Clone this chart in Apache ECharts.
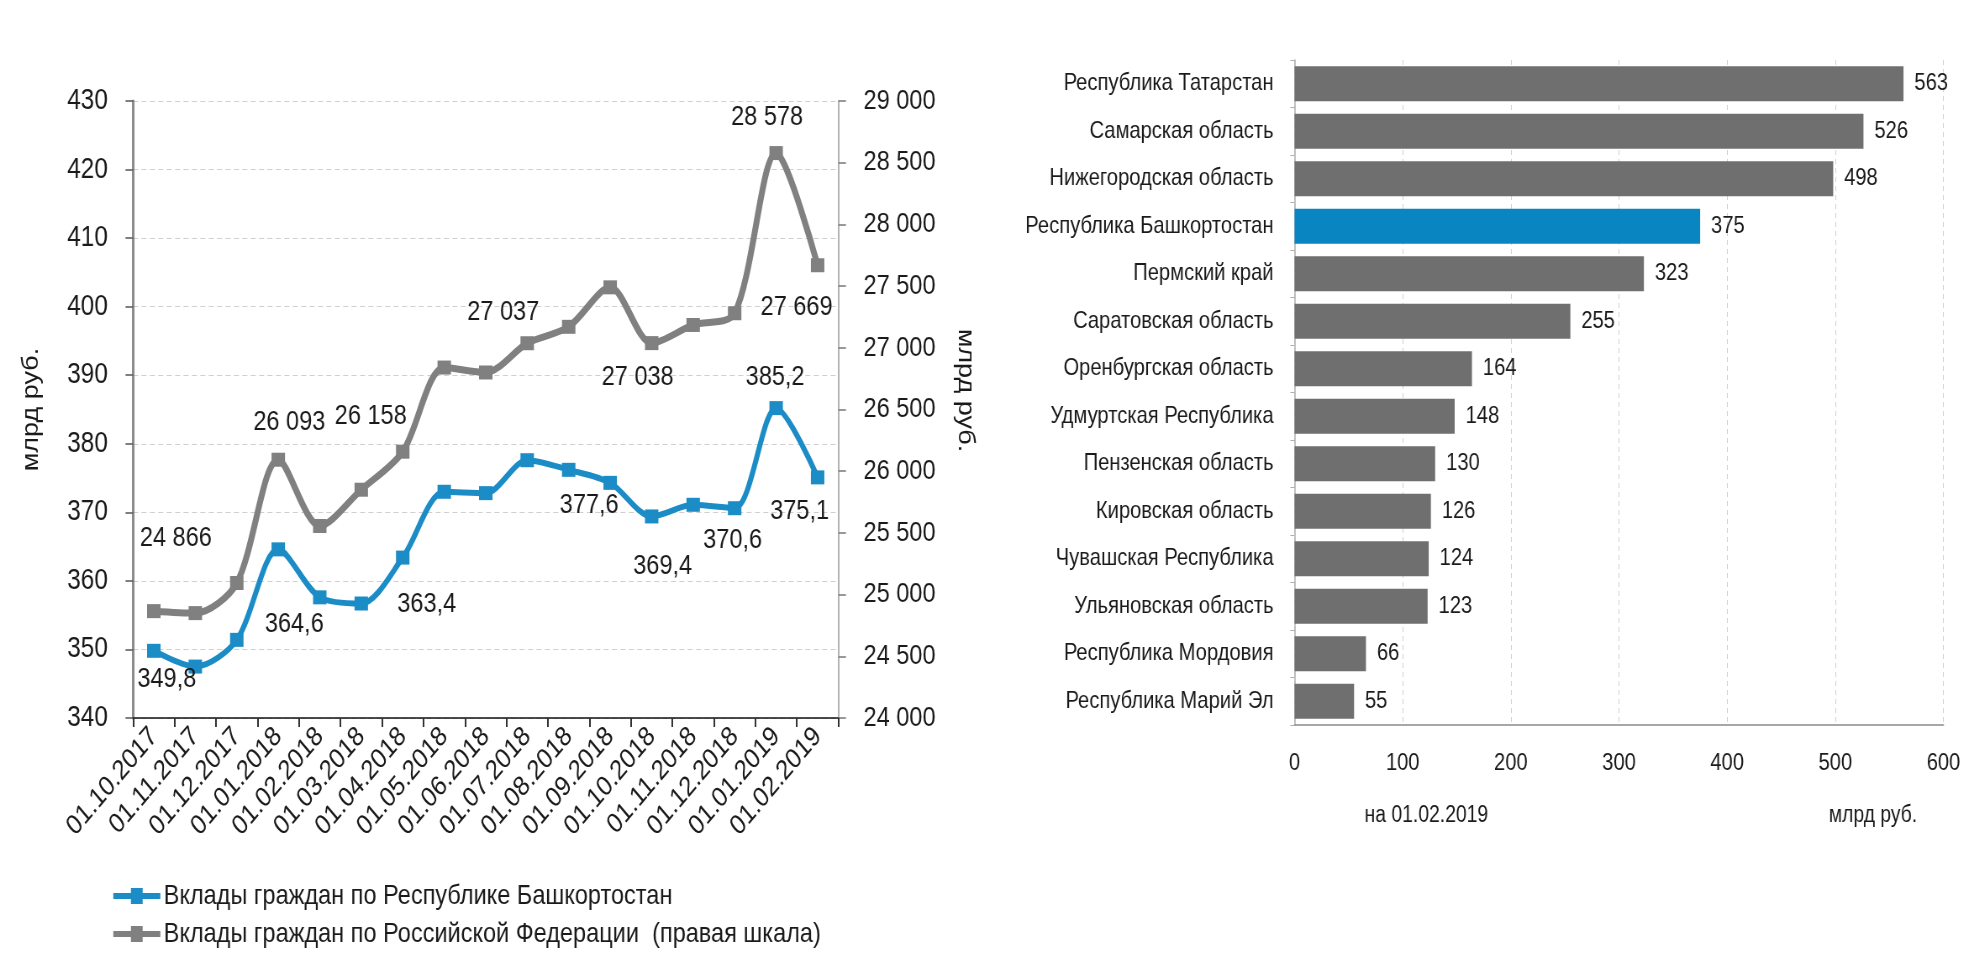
<!DOCTYPE html>
<html>
<head>
<meta charset="utf-8">
<script src="https://cdn.jsdelivr.net/npm/echarts@6/dist/echarts.min.js"></script>
<style>
html,body{margin:0;padding:0;background:#fff;overflow:hidden;}
#wrap{width:1962px;height:957px;overflow:hidden;position:relative;}
#c{position:absolute;left:0;top:0;height:957px;transform-origin:0 0;}
</style>
</head>
<body>
<div id="wrap"><div id="c"></div></div>
<script>
// ---- data: left chart ----
const dates = ['01.10.2017','01.11.2017','01.12.2017','01.01.2018','01.02.2018','01.03.2018','01.04.2018','01.05.2018','01.06.2018','01.07.2018','01.08.2018','01.09.2018','01.10.2018','01.11.2018','01.12.2018','01.01.2019','01.02.2019'];
const bashValues = [349.8, 347.5, 351.4, 364.6, 357.6, 356.7, 363.4, 373.0, 372.8, 377.6, 376.2, 374.3, 369.4, 371.1, 370.6, 385.2, 375.1];
const rfValues = [24866, 24850, 25094, 26093, 25556, 25850, 26158, 26840, 26800, 27037, 27170, 27490, 27038, 27185, 27280, 28578, 27669];
const bashName = 'Вклады граждан по Республике Башкортостан';
const rfName = 'Вклады граждан по Российской Федерации  (правая шкала)';
const leftAxisName = 'млрд руб.';
const rightAxisName = 'млрд руб.';

// ---- data: right chart ----
const regions = ['Республика Татарстан','Самарская область','Нижегородская область','Республика Башкортостан','Пермский край','Саратовская область','Оренбургская область','Удмуртская Республика','Пензенская область','Кировская область','Чувашская Республика','Ульяновская область','Республика Мордовия','Республика Марий Эл'];
const regionValues = [563, 526, 498, 375, 323, 255, 164, 148, 130, 126, 124, 123, 66, 55];
const highlightRegion = 'Республика Башкортостан';
const barDateText = 'на 01.02.2019';
const barUnitText = 'млрд руб.';

// ---- layout: the reference is horizontally condensed; draw wide, then squeeze ----
const SX = 0.84;
const W = 1962 / SX;
const X = v => v / SX;           // page px -> drawing px (horizontal only)

const FONT = '"Liberation Sans",Arial,sans-serif';
const BLUE = '#1b8cc6';
const GRAY = '#808080';
const BAR_GRAY = '#6f6f6f';
const BAR_BLUE = '#0986c2';
const TXT = '#1a1a1a';

// which points carry labels, and where (offset from the point, page px)
const bashLabelOffsets = {0:[13,28], 3:[16,75], 6:[24,47], 9:[62,45], 12:[11,50], 14:[-2,32], 15:[-1,-31], 16:[-18,34]};
const rfLabelOffsets = {0:[22,-73], 3:[11,-37], 6:[-32,-35], 9:[-24,-31], 12:[-14,34], 15:[-9,-36], 16:[-21,42]};

function fmtRu(v, dec) {
  if (dec) return v.toFixed(dec).replace('.', ',');
  const s = String(Math.round(v));
  return s.replace(/\B(?=(\d{3})+(?!\d))/g, ' ');
}

function lineData(values, offsets, dec) {
  return values.map((v, i) => {
    const o = offsets[i];
    if (!o) return { value: v, label: { show: false } };
    return {
      value: v,
      label: {
        show: true, position: 'inside', offset: [X(o[0]), o[1]],
        align: 'center', verticalAlign: 'middle',
        formatter: () => fmtRu(v, dec),
        fontFamily: FONT, fontSize: 28, color: TXT
      }
    };
  });
}

const el = document.getElementById('c');
el.style.width = W + 'px';
el.style.transform = 'scaleX(' + SX + ')';
const chart = echarts.init(el, null, { renderer: 'canvas', width: W, height: 957 });

const legendIcon = 'path://M0,5 L21,5 L21,0 L35,0 L35,5 L56,5 L56,11 L35,11 L35,16 L21,16 L21,11 L0,11 Z';

const option = {
  backgroundColor: '#ffffff',
  animation: false,
  textStyle: { fontFamily: FONT, color: TXT },
  legend: [{
    show: true,
    orient: 'vertical',
    left: X(109), top: 877,
    itemWidth: X(52), itemHeight: 16, itemGap: 10,
    icon: legendIcon,
    textStyle: { fontFamily: FONT, fontSize: 28, color: TXT, padding: [0,0,0,-4] },
    data: [bashName, rfName]
  }],
  grid: [
    { left: X(133), right: W - X(838), top: 101, bottom: 957 - 718, containLabel: false },
    { left: X(1294), right: W - X(1943), top: 60, bottom: 957 - 725, containLabel: false }
  ],
  xAxis: [
    {
      type: 'category', gridIndex: 0, data: dates, boundaryGap: true,
      axisLine: { show: true, lineStyle: { color: '#111', width: 1.5 } },
      axisTick: { show: true, length: 9, lineStyle: { color: '#333', width: 2 } },
      axisLabel: { rotate: 45, fontFamily: FONT, fontSize: 28, color: TXT, margin: 14, interval: 0 },
      splitLine: { show: false }
    },
    {
      type: 'value', gridIndex: 1, min: 0, max: 600, interval: 100,
      axisLine: { show: true, lineStyle: { color: '#8a8a8a', width: 1.5 } },
      axisTick: { show: false },
      axisLabel: { fontFamily: FONT, fontSize: 24, color: TXT, margin: 26 },
      splitLine: { show: true, lineStyle: { color: '#d0d0d0', type: [5, 4], width: 1 } }
    }
  ],
  yAxis: [
    {
      type: 'value', gridIndex: 0, min: 340, max: 430, interval: 10,
      name: leftAxisName, nameLocation: 'middle', nameRotate: 90, nameGap: 107,
      nameTextStyle: { fontFamily: FONT, fontSize: 27, color: TXT },
      axisLine: { show: true, lineStyle: { color: '#8c8c8c', width: 3 } },
      axisTick: { show: true, length: 9, lineStyle: { color: '#555', width: 1.5 } },
      axisLabel: { fontFamily: FONT, fontSize: 29, color: TXT, margin: 30 },
      splitLine: { show: true, lineStyle: { color: '#cfcfcf', type: [6, 4], width: 1 } }
    },
    {
      type: 'value', gridIndex: 0, position: 'right', min: 24000, max: 29000, interval: 500,
      name: rightAxisName, nameLocation: 'middle', nameRotate: -90, nameGap: 137,
      nameTextStyle: { fontFamily: FONT, fontSize: 27, color: TXT, padding: [0, 38, 0, 0] },
      axisLine: { show: true, lineStyle: { color: '#9a9a9a', width: 1.5 } },
      axisTick: { show: true, length: 9, lineStyle: { color: '#777', width: 1.5 } },
      axisLabel: { fontFamily: FONT, fontSize: 28, color: TXT, margin: 30,
        formatter: v => fmtRu(v) },
      splitLine: { show: false }
    },
    {
      type: 'category', gridIndex: 1, data: regions, inverse: true,
      axisLine: { show: true, lineStyle: { color: '#b0b0b0', width: 1.5 } },
      axisTick: { show: true, length: 5, lineStyle: { color: '#b0b0b0' } },
      axisLabel: { fontFamily: FONT, fontSize: 24, color: TXT, margin: 25 },
      splitLine: { show: false }
    }
  ],
  series: [
    {
      name: rfName, type: 'line', xAxisIndex: 0, yAxisIndex: 1,
      data: lineData(rfValues, rfLabelOffsets, 0),
      smooth: 0.3, symbol: 'rect', symbolSize: [16, 14],
      lineStyle: { color: GRAY, width: 7 },
      itemStyle: { color: GRAY },
      z: 2
    },
    {
      name: bashName, type: 'line', xAxisIndex: 0, yAxisIndex: 0,
      data: lineData(bashValues, bashLabelOffsets, 1),
      smooth: 0.3, symbol: 'rect', symbolSize: [16, 14],
      lineStyle: { color: BLUE, width: 6 },
      itemStyle: { color: BLUE },
      z: 3
    },
    {
      name: 'bars', type: 'bar', xAxisIndex: 1, yAxisIndex: 2,
      barWidth: 35,
      data: regionValues.map((v, i) => ({
        value: v,
        itemStyle: { color: regions[i] === highlightRegion ? BAR_BLUE : BAR_GRAY }
      })),
      label: { show: true, position: 'right', distance: 13, fontFamily: FONT, fontSize: 24, color: TXT },
      z: 2
    }
  ],
  graphic: [
    { type: 'text', left: X(1364), top: 804, style: { text: barDateText, font: '23px ' + FONT, fill: TXT } },
    { type: 'text', left: X(1828), top: 804, style: { text: barUnitText, font: '23px ' + FONT, fill: TXT } }
  ]
};
chart.setOption(option);
</script>
</body>
</html>
